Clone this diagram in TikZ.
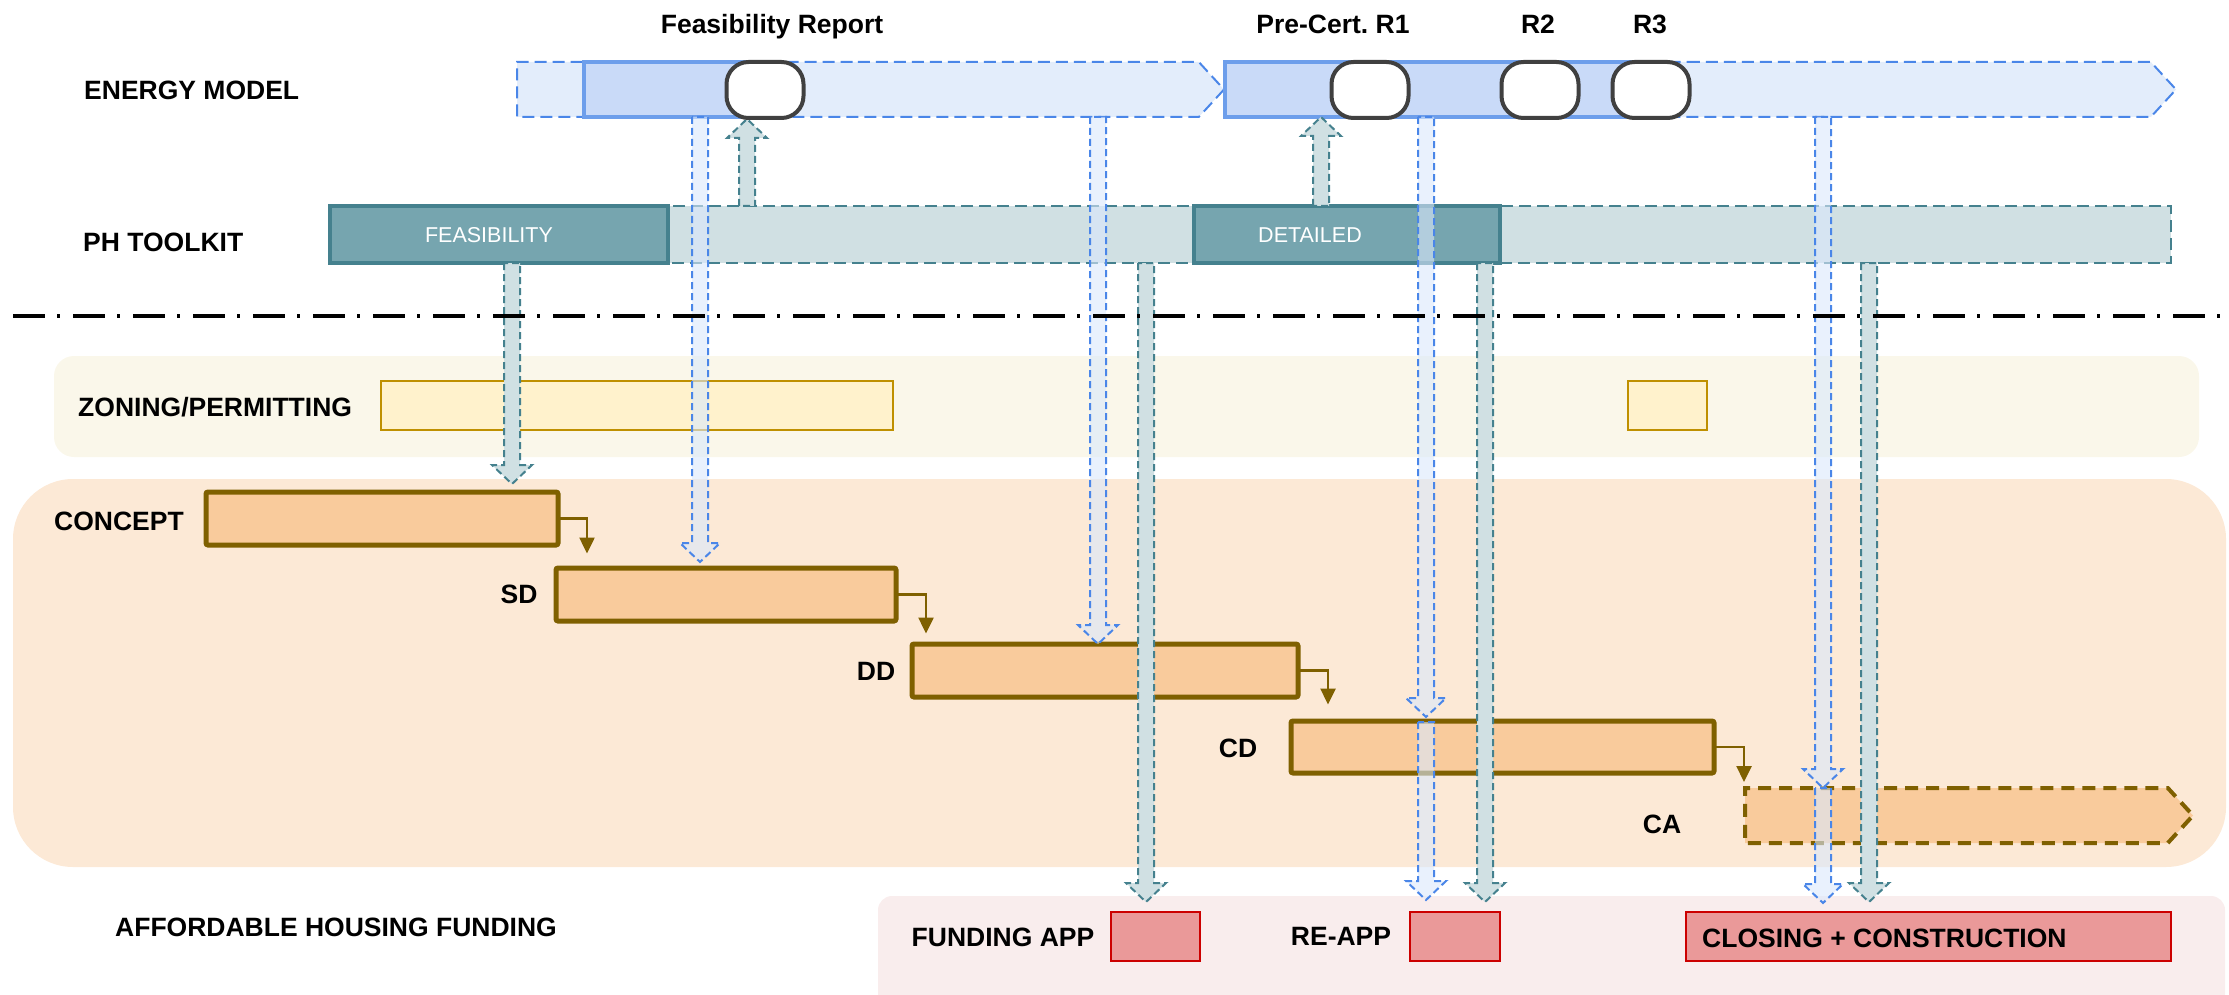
\documentclass[tikz,border=0pt]{standalone}
\usepackage{fontspec}
\setmainfont{Liberation Sans}
\usetikzlibrary{shapes.symbols,arrows.meta,calc}
\frenchspacing

% palette
\definecolor{emDashFill}{HTML}{E3EDFB}
\definecolor{emDashLine}{HTML}{4A86E8}
\definecolor{emFill}{HTML}{C9DAF8}
\definecolor{emLine}{HTML}{6D9EEB}
\definecolor{phDark}{HTML}{76A5AF}
\definecolor{phLine}{HTML}{45818E}
\definecolor{phLight}{HTML}{D0E0E3}
\definecolor{zoneBack}{HTML}{FAF7EA}
\definecolor{zoneFill}{HTML}{FFF2CC}
\definecolor{zoneLine}{HTML}{BF9000}
\definecolor{designBack}{HTML}{FCE9D6}
\definecolor{designFill}{HTML}{F9CB9C}
\definecolor{designLine}{HTML}{7F6000}
\definecolor{fundBack}{HTML}{F9EDED}
\definecolor{fundFill}{HTML}{EA9999}
\definecolor{fundLine}{HTML}{CC0000}
\definecolor{flowBlue}{HTML}{DAE8FC}
\definecolor{milestone}{HTML}{404040}

% vertical block arrow from #2 to the tip #3
\newcommand\vflex[3]{%
  \draw[#1] let \p1=(#2), \p2=(#3), \n1={(\y2-\y1)/abs(\y2-\y1)} in
    (\x1-8pt,\y1) -- (\x1-8pt,{\y2-(\n1)*19pt}) -- (\x1-20pt,{\y2-(\n1)*19pt})
    -- (\x1,\y2) -- (\x1+20pt,{\y2-(\n1)*19pt}) -- (\x1+8pt,{\y2-(\n1)*19pt})
    -- (\x1+8pt,\y1) -- cycle;}

\tikzset{
  box/.style={rectangle, anchor=north west, inner sep=0pt, outer sep=0pt},
  lab/.style={inner sep=0pt, text height=19pt, text depth=0pt,
    font=\fontsize{26.5}{30}\selectfont\bfseries},
  phlab/.style={inner sep=0pt, text height=15.5pt, text depth=0pt, text=white,
    font=\fontsize{21.5}{25}\selectfont},
  emdash/.style={signal, signal to=east, signal from=nowhere, signal pointer angle=95,
    anchor=north west, inner sep=0pt, outer sep=0pt, fill=emDashFill, draw=emDashLine,
    line width=2pt, dash pattern=on 12pt off 6pt},
  emsolid/.style={box, fill=emFill, draw=emLine, line width=3.5pt},
  mile/.style={rectangle, rounded corners=22pt, minimum width=77pt, minimum height=56pt,
    inner sep=0pt, fill=white, draw=milestone, line width=4pt},
  phsolid/.style={box, fill=phDark, draw=phLine, line width=3.5pt},
  phlight/.style={box, fill=phLight, draw=phLine, line width=2pt, dash pattern=on 12pt off 6pt},
  zonebar/.style={box, fill=zoneFill, draw=zoneLine, line width=2pt},
  designbar/.style={box, fill=designFill, draw=designLine, line width=5pt, rounded corners=2pt},
  fundbox/.style={box, fill=fundFill, draw=fundLine, line width=2pt},
  flow/.style={draw=designLine, line width=2.5pt, -{Triangle[length=16pt,width=15pt]}},
  tealflex/.style={fill=phLight, draw=phLine, line width=2pt, dash pattern=on 7pt off 4pt},
  blueflex/.style={fill=flowBlue, fill opacity=0.6, draw=emDashLine, draw opacity=1,
    line width=2pt, dash pattern=on 7pt off 4pt},
}

\begin{document}
\begin{tikzpicture}[x=1pt,y=-1pt]
\useasboundingbox (0,0) rectangle (2229,995);

% swim-lane backgrounds
\fill[zoneBack, rounded corners=20pt] (54,356) rectangle (2199,457);
\fill[designBack, rounded corners=60pt] (13,479) rectangle (2226,867);
\fill[fundBack, rounded corners=14pt] (878,896) rectangle (2225,1008);

% energy model lane
\node[emdash, minimum width=707pt, minimum height=55pt] (emD1) at (517,62) {};
\node[emdash, minimum width=951pt, minimum height=55pt] (emD2) at (1225,62) {};
\node[emsolid, minimum width=181pt, minimum height=55pt] (emS1) at (584,62) {};
\node[emsolid, minimum width=426pt, minimum height=55pt] (emS2) at (1225,62) {};

% PH toolkit lane
\node[phlight, minimum width=1841pt, minimum height=57pt] (phBar) at (330,206) {};
\node[phsolid, minimum width=338pt, minimum height=57pt] (phFeas) at (330,206) {};
\node[phsolid, minimum width=306pt, minimum height=57pt] (phDet) at (1194,206) {};
\node[phlab] (phFeasText) at ($(phFeas.center)+(-10,0)$) {FEASIBILITY};
\node[phlab] (phDetText) at ($(phDet.center)+(-37,0)$) {DETAILED};

% zoning / permitting
\node[zonebar, minimum width=512pt, minimum height=49pt] (zone1) at (381,381) {};
\node[zonebar, minimum width=79pt, minimum height=49pt] (zone2) at (1628,381) {};

% design phases
\node[designbar, minimum width=352pt, minimum height=53pt] (concept) at (206,492) {};
\node[designbar, minimum width=340pt, minimum height=53pt] (sd) at (556,568) {};
\node[designbar, minimum width=386pt, minimum height=53pt] (dd) at (912,644) {};
\node[designbar, minimum width=423pt, minimum height=52pt] (cd) at (1291,721) {};
\node[signal, signal to=east, signal from=nowhere, signal pointer angle=95,
  anchor=north west, inner sep=0pt, outer sep=0pt, fill=designFill, draw=designLine,
  line width=4pt, dash pattern=on 13pt off 8pt,
  minimum width=448pt, minimum height=55pt] (ca) at (1745,788) {};

\draw[flow] (concept.east) -- ++(29,0) -- ++(0,35);
\draw[flow] (sd.east) -- ++(30,0) -- ++(0,39);
\draw[flow] (dd.east) -- ++(30,0) -- ++(0,34);
\draw[flow] (cd.east) -- ++(30,0) -- ++(0,35);

% funding
\node[fundbox, minimum width=89pt, minimum height=49pt] (fundApp) at (1111,912) {};
\node[fundbox, minimum width=90pt, minimum height=49pt] (reApp) at (1410,912) {};
\node[fundbox, minimum width=485pt, minimum height=49pt] (closing) at (1686,912) {};

% columns of the hand-off arrows
\coordinate (xt1) at (512,0);
\coordinate (xt2) at (1146,0);
\coordinate (xt3) at (1485,0);
\coordinate (xt4) at (1869,0);
\coordinate (xu1) at (747,0);
\coordinate (xu2) at (1321,0);
\coordinate (xb1) at (700,0);
\coordinate (xb2) at (1098,0);
\coordinate (xb3) at (1426,0);
\coordinate (xb4) at (1823,0);

% PH toolkit hand-offs
\vflex{tealflex}{xt1 |- phFeas.south}{$(xt1 |- concept.north)+(0,-8)$}
\vflex{tealflex}{xt2 |- phBar.south}{$(xt2 |- fundApp.north)+(0,-10)$}
\vflex{tealflex}{xt3 |- phDet.south}{$(xt3 |- reApp.north)+(0,-10)$}
\vflex{tealflex}{xt4 |- phBar.south}{$(xt4 |- closing.north)+(0,-10)$}
\vflex{tealflex}{xu1 |- phBar.north}{$(xu1 |- emS1.south)+(0,2)$}
\vflex{tealflex}{xu2 |- phBar.north}{xu2 |- emS2.south}

% energy model hand-offs
\vflex{blueflex}{xb1 |- emS1.south}{$(xb1 |- sd.north)+(0,-6)$}
\vflex{blueflex}{xb2 |- emD1.south}{xb2 |- dd.north}
\vflex{blueflex}{xb3 |- emS2.south}{$(xb3 |- cd.north)+(0,-4)$}
\vflex{blueflex}{$(xb3 |- cd.north)+(0,1)$}{$(xb3 |- reApp.north)+(0,-12)$}
\vflex{blueflex}{xb4 |- emD2.south}{xb4 |- ca.north}
\vflex{blueflex}{xb4 |- ca.north}{$(xb4 |- closing.north)+(0,-9)$}

% milestones
\node[mile] (m0) at (765,90) {};
\node[mile] (m1) at (1370,90) {};
\node[mile] (m2) at (1540,90) {};
\node[mile] (m3) at (1651,90) {};

% divider between modelling and project lanes
\coordinate (sepL) at (13,316);
\coordinate (sepR) at (2229,316);
\draw[line width=4pt, dash pattern=on 32pt off 12pt on 3pt off 13pt] (sepL) -- (sepR);

% labels
\node[lab] (lFR) at (772,24) {Feasibility Report};
\node[lab] (lR1) at (1333,24) {Pre-Cert. R1};
\node[lab] (lR2) at (1538,24) {R2};
\node[lab] (lR3) at (1650,24) {R3};
\node[lab, anchor=west] (lEM) at (84,90) {ENERGY MODEL};
\node[lab, anchor=west] (lPH) at (83,242) {PH TOOLKIT};
\node[lab, anchor=west] (lZP) at (78,407) {ZONING/PERMITTING};
\node[lab, anchor=west] (lCO) at (54,521) {CONCEPT};
\node[lab] (lSD) at (519,594) {SD};
\node[lab] (lDD) at (876,671) {DD};
\node[lab] (lCD) at (1238,748) {CD};
\node[lab] (lCA) at (1662,824) {CA};
\node[lab, anchor=west] (lAH) at (115,927) {AFFORDABLE HOUSING FUNDING};
\node[lab] (lFA) at (1003,937) {FUNDING APP};
\node[lab] (lRA) at (1341,936) {RE-APP};
\node[lab, anchor=west] (lCL) at ($(closing.west)+(16,1)$) {CLOSING + CONSTRUCTION};
\end{tikzpicture}
\end{document}
